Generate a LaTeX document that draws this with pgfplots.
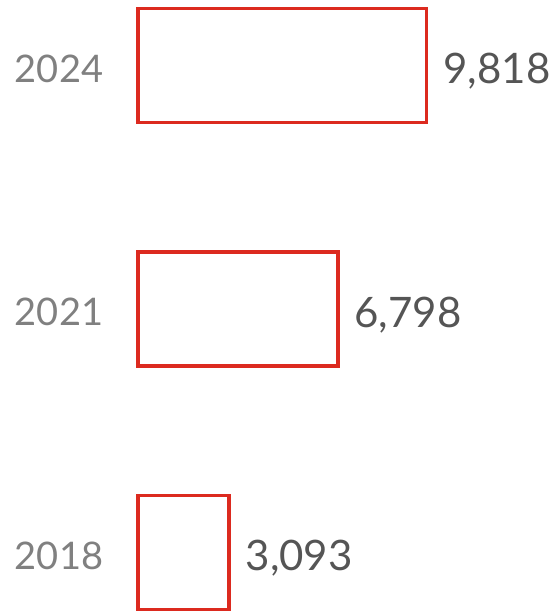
\documentclass[border=0pt]{standalone}
\usepackage{pgfplots}
\pgfplotsset{compat=1.18}
\usepackage{fontspec}
\setmainfont{Lato}
\definecolor{barred}{HTML}{DC2A1F}
\definecolor{yeargray}{HTML}{808080}
\definecolor{valgray}{HTML}{555555}
\begin{document}
\begin{tikzpicture}
\begin{axis}[
  scale only axis, width=554pt, height=613pt,
  xmin=-4694, xmax=14150, ymin=-0.2485, ymax=2.269,
  axis line style={draw=none}, tick style={draw=none},
  xbar, bar width=114pt,
  xtick=\empty,
  ytick={0,1,2}, yticklabels={2018,2021,2024},
  /pgf/number format/assume math mode=true,
  yticklabel style={anchor=base west, xshift=19pt, yshift=-17pt, inner sep=0pt, text=yeargray, font=\fontsize{38}{40}\selectfont},
  point meta=x,
  nodes near coords={\pgfmathprintnumber[1000 sep={,}]{\pgfplotspointmeta}},
  nodes near coords style={anchor=base west, xshift=15pt, yshift=-18.5pt, inner sep=0pt, text=valgray, font=\fontsize{42}{44}\selectfont},
  clip=false,
]
\addplot[draw=barred, fill=white, line width=3.5pt] coordinates {(3093,0) (6798,1) (9818,2)};
\end{axis}
\pgfresetboundingbox
\useasboundingbox (current axis.south west) rectangle (current axis.north east);
\end{tikzpicture}
\end{document}
